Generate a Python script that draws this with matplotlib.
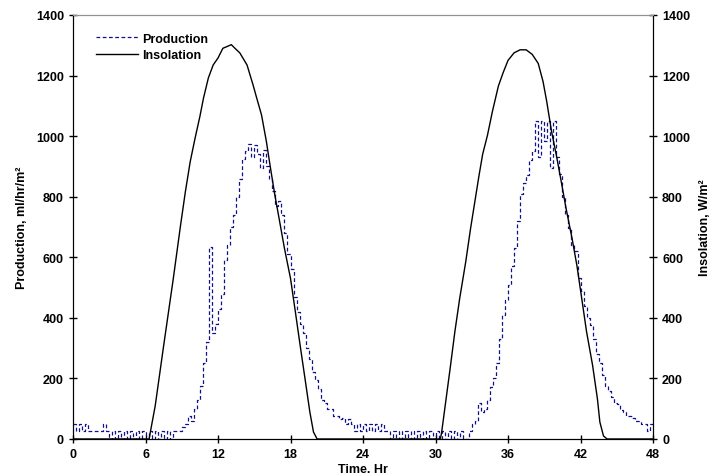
import matplotlib
matplotlib.use("Agg")
import matplotlib.pyplot as plt
import numpy as np

plt.rcParams['font.family'] = ['Liberation Sans', 'DejaVu Sans']
plt.rcParams['font.weight'] = 'bold'
plt.rcParams['font.size'] = 9

# --- datos: produccion cada 15 min (0 .. 48 h) ---
prod_step = 0.25
produccion = [
    50, 25, 50, 25, 50, 25, 25, 25, 25, 25, 50, 25,          # 0 - 2.75
    0, 25, 0, 25, 0, 25, 0, 25, 0, 25, 0, 25,                # 3 - 5.75
    0, 25, 0, 25, 0, 25, 0, 25, 0, 25, 25, 25,               # 6 - 8.75
    40, 50, 75, 60, 100, 130, 175, 250, 320, 635, 350, 380,  # 9 - 11.75
    430, 480, 590, 640, 700, 740, 800, 860, 925, 950, 975, 930,   # 12 - 14.75
    970, 940, 895, 955, 900, 860, 820, 770, 785, 740, 680, 610,   # 15 - 17.75
    560, 470, 420, 380, 350, 300, 265, 220, 195, 165, 130, 120,   # 18 - 20.75
    100, 100, 75, 75, 65, 70, 50, 65, 50, 25, 50, 25,        # 21 - 23.75
    50, 25, 50, 25, 50, 25, 50, 25, 25, 0, 25, 0,            # 24 - 26.75
    25, 0, 25, 0, 25, 0, 25, 0, 25, 0, 25, 0,                # 27 - 29.75
    25, 0, 25, 0, 25, 0, 25, 0, 25, 0, 0, 25,                # 30 - 32.75
    50, 60, 120, 90, 100, 130, 170, 200, 250, 330, 410, 460,      # 33 - 35.75
    510, 570, 630, 720, 810, 845, 870, 920, 950, 1050, 930, 1050,  # 36 - 38.75
    985, 1050, 895, 1050, 930, 875, 800, 740, 695, 640, 620, 530,  # 39 - 41.75
    490, 440, 400, 375, 330, 280, 250, 210, 175, 160, 140, 120,   # 42 - 44.75
    115, 95, 90, 75, 75, 70, 60, 60, 50, 50, 25, 50,         # 45 - 47.75
    50,                                                      # 48
]
tiempo_prod = np.arange(len(produccion)) * prod_step

# --- datos: insolacion ---
tiempo_ins = [
    0, 6.3, 6.4, 6.8, 7.5, 8.3, 8.9, 9.3, 9.7, 10.1, 10.5, 10.8, 11.2, 11.6,
    12.0, 12.4, 12.7, 13.1, 13.4, 13.8, 14.4, 14.9, 15.2, 15.6, 16.0, 16.3,
    16.7, 17.1, 17.5, 18.0, 18.4, 18.8, 19.2, 19.6, 19.9, 20.2,
    30.4, 30.5, 30.8, 31.2, 31.6, 32.0, 32.5, 32.9, 33.3, 33.6, 33.9, 34.3,
    34.7, 35.2, 35.6, 36.0, 36.5, 37.0, 37.5, 38.0, 38.5, 38.9, 39.2, 39.6,
    40.0, 40.4, 40.8, 41.3, 41.7, 42.1, 42.5, 43.0, 43.4, 43.6, 43.9, 44.2, 48,
]
insolacion = [
    0, 0, 23, 109, 308, 530, 706, 817, 916, 993, 1065, 1126, 1192, 1235,
    1258, 1290, 1295, 1302, 1290, 1275, 1235, 1169, 1126, 1070, 983, 905,
    806, 718, 629, 530, 420, 308, 199, 89, 23, 0,
    0, 20, 110, 230, 354, 464, 585, 695, 795, 870, 940, 1003,
    1080, 1165, 1210, 1250, 1275, 1285, 1285, 1270, 1240, 1180, 1115, 1016,
    937, 851, 762, 662, 573, 464, 354, 243, 132, 56, 10, 0, 0,
]

xticks = np.arange(0, 49, 6)
yticks = np.arange(0, 1401, 200)

fig, ax = plt.subplots(figsize=(7.18, 4.77), dpi=100)
fig.subplots_adjust(left=0.1017, right=0.9095, bottom=0.0776, top=0.9665)
ax2 = ax.twinx()

ax.plot(tiempo_prod, produccion, drawstyle='steps-post', color='#10108a',
        linestyle=(0, (3, 2)), linewidth=0.9, label='Production')
ax2.plot(tiempo_ins, insolacion, color='black', linewidth=1.0, label='Insolation')

for a in (ax, ax2):
    a.set_xlim(0, 48)
    a.set_ylim(0, 1400)
    a.set_yticks(yticks)
    a.tick_params(direction='inout', length=6, width=1, labelsize=9)
    a.spines['top'].set_color('#909090')
    a.spines['top'].set_linewidth(0.8)
ax.set_xticks(xticks)

ax.set_xlabel('Time. Hr', fontweight='bold', labelpad=2)
ax.set_ylabel('Production, ml/hr/m²', fontweight='bold', labelpad=6)
ax2.set_ylabel('Insolation, W/m²', fontweight='bold', labelpad=6)

h1, l1 = ax.get_legend_handles_labels()
h2, l2 = ax2.get_legend_handles_labels()
ax.legend(h1 + h2, l1 + l2, loc='upper left', frameon=False,
          bbox_to_anchor=(0.02, 0.985), handlelength=3.4, handletextpad=0.3,
          labelspacing=0.35, prop={'weight': 'bold', 'size': 9})

fig.savefig('out.png', dpi=100)
